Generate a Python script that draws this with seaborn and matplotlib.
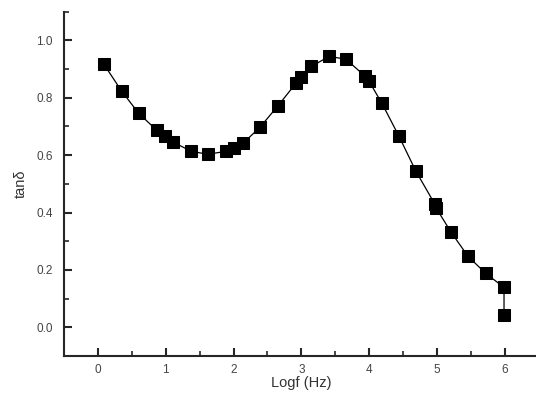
import numpy as np
import pandas as pd
import matplotlib
matplotlib.use("Agg")
import matplotlib.pyplot as plt
import seaborn as sns
from matplotlib.ticker import MultipleLocator

# values
logf = [0.09, 0.35, 0.60, 0.87, 0.99, 1.11, 1.38, 1.62, 1.89, 2.00, 2.14,
        2.39, 2.65, 2.92, 2.99, 3.15, 3.41, 3.66, 3.94, 4.00, 4.19, 4.44,
        4.69, 4.97, 4.99, 5.21, 5.46, 5.72, 5.99, 5.99]
tand = [0.916, 0.823, 0.746, 0.686, 0.666, 0.645, 0.613, 0.603, 0.613, 0.624,
        0.641, 0.697, 0.770, 0.850, 0.871, 0.909, 0.944, 0.934, 0.875, 0.857,
        0.780, 0.666, 0.544, 0.429, 0.415, 0.331, 0.247, 0.188, 0.139, 0.042]

df = pd.DataFrame({"logf": logf, "tand": tand})

sns.set_style("ticks")
plt.rcParams["font.family"] = ["Liberation Sans", "DejaVu Sans"]

fig = plt.figure(figsize=(5.36, 3.93), dpi=100)
ax = fig.add_axes([64 / 536, 37 / 393, 474.6 / 536, 344.4 / 393])

sns.lineplot(data=df, x="logf", y="tand", sort=False, estimator=None,
             color="black", linewidth=0.9, marker="s", markersize=8,
             markeredgecolor="black", markerfacecolor="black", ax=ax)

ax.set_xlim(-0.5, 6.5)
ax.set_ylim(-0.1, 1.1)
ax.xaxis.set_major_locator(MultipleLocator(1))
ax.xaxis.set_minor_locator(MultipleLocator(0.5))
ax.yaxis.set_major_locator(MultipleLocator(0.2))
ax.yaxis.set_minor_locator(MultipleLocator(0.1))
ax.set_xticks(range(0, 7))
ax.set_yticks([0.0, 0.2, 0.4, 0.6, 0.8, 1.0])
ax.set_yticklabels(["0.0", "0.2", "0.4", "0.6", "0.8", "1.0"])

sns.despine(ax=ax)
for s in ["left", "bottom"]:
    ax.spines[s].set_linewidth(1.5)
ax.tick_params(which="major", direction="in", length=6, width=1.5,
               labelsize=8.5, labelcolor="#444444", pad=8)
ax.tick_params(axis="x", which="major", pad=6)
ax.tick_params(which="minor", direction="in", length=3.5, width=1.2)

ax.set_xlabel("Logf (Hz)", fontsize=10.5, color="#333333", labelpad=0)
ax.set_ylabel("tanδ", fontsize=10.5, color="#333333", labelpad=6)

fig.savefig("out.png", dpi=100)
